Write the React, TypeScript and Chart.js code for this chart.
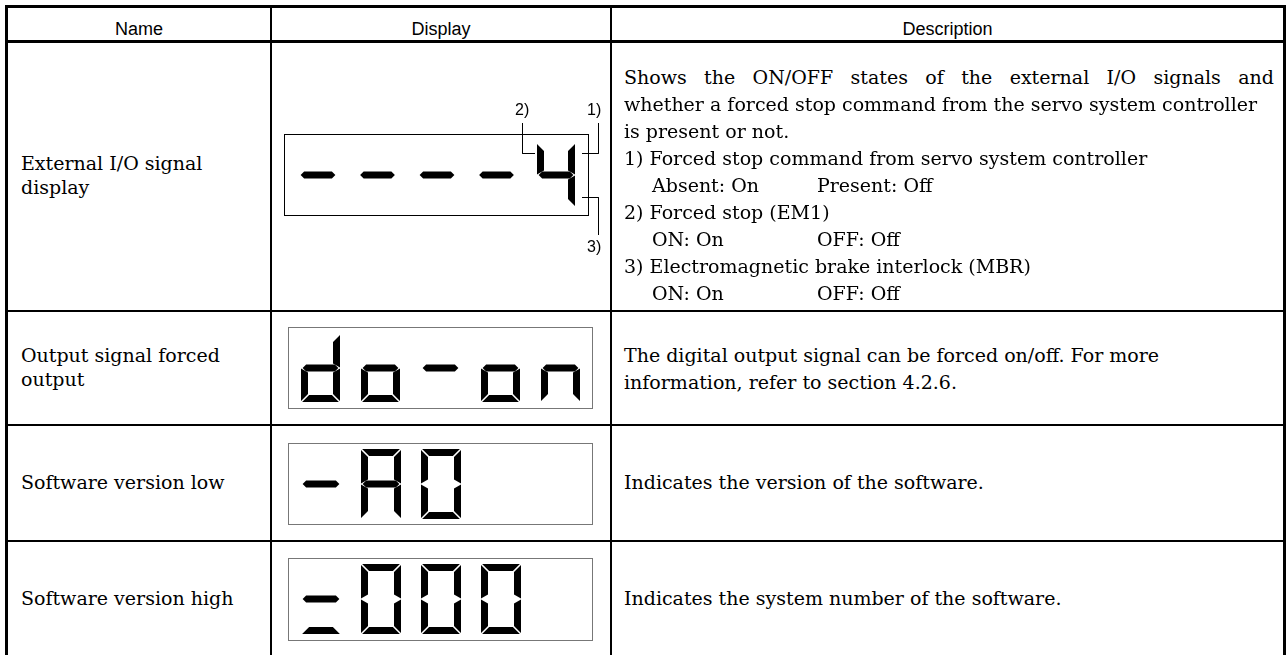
import React, { useEffect, useRef } from "react";
import { Chart, registerables } from "chart.js";

Chart.register(...registerables);

// ---------- data ----------
const HEADERS = ["Name", "Display", "Description"];
const ROW_NAMES: string[][] = [
  ["External I/O signal", "display"],
  ["Output signal forced", "output"],
  ["Software version low"],
  ["Software version high"],
];
const DISPLAY_TEXTS = ["----4", "do-on", "-A0", "=000"];
const CALLOUT_LABELS = ["1)", "2)", "3)"];
const DESC_ROW1_FIRST = "Shows the ON/OFF states of the external I/O signals and";
const DESC_ROW1: (string | [string, string])[] = [
  "whether a forced stop command from the servo system controller",
  "is present or not.",
  "1) Forced stop command from servo system controller",
  ["Absent: On", "Present: Off"],
  "2) Forced stop (EM1)",
  ["ON: On", "OFF: Off"],
  "3) Electromagnetic brake interlock (MBR)",
  ["ON: On", "OFF: Off"],
];
const DESC_ROW2 = [
  "The digital output signal can be forced on/off. For more",
  "information, refer to section 4.2.6.",
];
const DESC_ROW3 = ["Indicates the version of the software."];
const DESC_ROW4 = ["Indicates the system number of the software."];

// segments lit per character (a top, b upper-right, c lower-right, d bottom, e lower-left, f upper-left, g middle)
const SEGMENT_MAP: Record<string, string> = {
  "-": "g",
  "=": "dg",
  "4": "bcfg",
  d: "bcdeg",
  o: "cdeg",
  n: "ceg",
  A: "abcefg",
  "0": "abcdef",
};

// ---------- styles ----------
const SERIF = '"DejaVu Serif", serif';
const SANS = '"Liberation Sans", Arial, sans-serif';

type Geo = {
  left: number; top: number; cw: number; ch: number; // canvas placement
  boxL: number; boxT: number; boxW: number; boxH: number; boxColor: string;
  digitL: number; pitch: number; digitT: number; w: number; h: number; t: number; g: number;
};

function segmentPolys(W: number, H: number, T: number, G: number): Record<string, number[][]> {
  const m = H / 2;
  const c = 0.5;
  const f = [[0, G], [T, T + G], [T, m - T / 2 - c - G / 2], [0, m - c]];
  const e = [[0, m + c], [T, m + T / 2 + c + G / 2], [T, H - T - G], [0, H - G]];
  const mirror = (p: number[][]) => p.map(([x, y]) => [W - x, y]);
  return {
    a: [[G, 0], [W - G, 0], [W - T - G, T], [T + G, T]],
    d: [[T + G, H - T], [W - T - G, H - T], [W - G, H], [G, H]],
    f,
    e,
    b: mirror(f),
    c: mirror(e),
    g: [[G + 0.5, m], [G + T / 2 + 0.5, m - T / 2], [W - G - T / 2 - 0.5, m - T / 2], [W - G - 0.5, m], [W - G - T / 2 - 0.5, m + T / 2], [G + T / 2 + 0.5, m + T / 2]],
  };
}

function SevenSegment({ text, geo, callouts }: { text: string; geo: Geo; callouts?: boolean }) {
  const ref = useRef<HTMLCanvasElement>(null);
  useEffect(() => {
    if (!ref.current) return;
    const polys = segmentPolys(geo.w, geo.h, geo.t, geo.g);
    const datasets: any[] = [];
    [...text].forEach((chr, i) => {
      const ox = geo.boxL + geo.digitL + i * geo.pitch;
      const oy = geo.boxT + geo.digitT;
      for (const s of SEGMENT_MAP[chr] || "") {
        datasets.push({
          data: polys[s].map(([x, y]) => ({ x: ox + x, y: oy + y })),
          fill: "shape",
          backgroundColor: "#000",
          borderColor: "rgba(0,0,0,0)",
          borderWidth: 0,
          pointRadius: 0,
          tension: 0,
        });
      }
    });
    if (callouts) {
      const last = text.length - 1;
      const dl = geo.boxL + geo.digitL + last * geo.pitch;
      const dr = dl + geo.w;
      const dt = geo.boxT + geo.digitT;
      const upperY = dt + 10.5;
      const lowerY = dt + geo.h - 9.5;
      const topY = 28;
      const leftX = dl - 14.5;
      const rightX = dr + 23.5;
      const lines = [
        [[leftX, topY], [leftX, upperY], [dl - 2, upperY]],
        [[rightX, topY], [rightX, upperY], [dr + 7, upperY]],
        [[dr + 7, lowerY], [rightX, lowerY], [rightX, geo.ch - 25]],
      ];
      for (const l of lines) {
        datasets.push({
          data: l.map(([x, y]) => ({ x, y })),
          fill: false,
          borderColor: "#000",
          borderWidth: 1,
          pointRadius: 0,
          tension: 0,
        });
      }
    }
    const chart = new Chart(ref.current, {
      type: "line",
      data: { datasets },
      options: {
        animation: false,
        responsive: false,
        maintainAspectRatio: false,
        events: [],
        layout: { padding: 0 },
        plugins: { legend: { display: false }, tooltip: { enabled: false } },
        scales: {
          x: { type: "linear", min: 0, max: geo.cw, display: false },
          y: { type: "linear", min: 0, max: geo.ch, reverse: true, display: false },
        },
      },
    });
    return () => chart.destroy();
  }, [text]);
  return (
    <>
      <div
        style={{
          position: "absolute",
          left: geo.left + geo.boxL,
          top: geo.top + geo.boxT,
          width: geo.boxW - 2,
          height: geo.boxH - 2,
          border: `1px solid ${geo.boxColor}`,
        }}
      />
      <canvas
        ref={ref}
        width={geo.cw}
        height={geo.ch}
        style={{ position: "absolute", left: geo.left, top: geo.top, width: geo.cw, height: geo.ch }}
      />
    </>
  );
}

const GEOS: Geo[] = [
  { left: 276, top: 95, cw: 330, ch: 165, boxL: 8, boxT: 39, boxW: 305, boxH: 82, boxColor: "#000", digitL: 15, pitch: 59.5, digitT: 9, w: 38, h: 64, t: 7, g: 1.1 },
  { left: 282, top: 318, cw: 320, ch: 100, boxL: 6, boxT: 9, boxW: 305, boxH: 82, boxColor: "#777", digitL: 13, pitch: 60, digitT: 7, w: 39, h: 68, t: 7, g: 1.1 },
  { left: 282, top: 434, cw: 320, ch: 100, boxL: 6, boxT: 9, boxW: 305, boxH: 82, boxColor: "#777", digitL: 13, pitch: 60, digitT: 6, w: 40, h: 70, t: 7, g: 1.1 },
  { left: 282, top: 549, cw: 320, ch: 100, boxL: 6, boxT: 9, boxW: 305, boxH: 83, boxColor: "#777", digitL: 13, pitch: 60, digitT: 6, w: 40, h: 70, t: 7, g: 1.1 },
];

const abs = (l: number, t: number, w: number, h: number, bg = "#000"): React.CSSProperties => ({
  position: "absolute", left: l, top: t, width: w, height: h, background: bg,
});

function TextLines({ lines, left, top, lh, width }: { lines: string[]; left: number; top: number; lh: number; width?: number }) {
  return (
    <div style={{ position: "absolute", left, top, width, font: `19px ${SERIF}`, lineHeight: `${lh}px`, color: "#000", whiteSpace: "nowrap" }}>
      {lines.map((l, i) => (
        <div key={i}>{l}</div>
      ))}
    </div>
  );
}

export default function App() {
  const rowLines = [310, 424, 540];
  const nameTops = [151, 343, 470, 586];
  return (
    <div style={{ position: "absolute", left: 0, top: 0, width: 1286, height: 655, overflow: "hidden", background: "#fff" }}>
      {/* borders */}
      <div style={abs(5, 5, 1281, 3)} />
      <div style={abs(5, 5, 3, 660)} />
      <div style={abs(1283, 5, 3, 660)} />
      <div style={abs(5, 40, 1281, 3)} />
      <div style={abs(270, 5, 2, 660)} />
      <div style={abs(610, 5, 2, 660)} />
      {rowLines.map((y) => (
        <div key={y} style={abs(5, y, 1281, 2)} />
      ))}

      {/* headers */}
      {[
        [8, 262],
        [272, 338],
        [612, 671],
      ].map(([l, w], i) => (
        <div
          key={i}
          style={{ position: "absolute", left: l, top: 19, width: w, textAlign: "center", font: `18px ${SANS}`, lineHeight: "20px" }}
        >
          {HEADERS[i]}
        </div>
      ))}

      {/* names */}
      {ROW_NAMES.map((ls, i) => (
        <TextLines key={i} lines={ls} left={21} top={nameTops[i]} lh={24} />
      ))}

      {/* displays */}
      {DISPLAY_TEXTS.map((t, i) => (
        <SevenSegment key={i} text={t} geo={GEOS[i]} callouts={i === 0} />
      ))}
      {/* callout labels */}
      {[
        [587, 101],
        [515, 101],
        [587, 238],
      ].map(([l, t], i) => (
        <div key={i} style={{ position: "absolute", left: l, top: t, font: `16px ${SANS}`, lineHeight: "18px" }}>
          {CALLOUT_LABELS[i]}
        </div>
      ))}

      {/* descriptions */}
      <div
        style={{
          position: "absolute", left: 624, top: 64, width: 650, font: `19px ${SERIF}`, lineHeight: "27px",
          textAlign: "justify", textAlignLast: "justify" as any, whiteSpace: "normal",
        }}
      >
        {DESC_ROW1_FIRST}
      </div>
      <div style={{ position: "absolute", left: 624, top: 91, font: `19px ${SERIF}`, lineHeight: "27px", whiteSpace: "nowrap" }}>
        {DESC_ROW1.map((l, i) =>
          typeof l === "string" ? (
            <div key={i}>{l}</div>
          ) : (
            <div key={i} style={{ position: "relative", height: 27 }}>
              <span style={{ position: "absolute", left: 28 }}>{l[0]}</span>
              <span style={{ position: "absolute", left: 193 }}>{l[1]}</span>
            </div>
          )
        )}
      </div>
      <TextLines lines={DESC_ROW2} left={624} top={342} lh={27} />
      <TextLines lines={DESC_ROW3} left={624} top={469} lh={27} />
      <TextLines lines={DESC_ROW4} left={624} top={585} lh={27} />
    </div>
  );
}
